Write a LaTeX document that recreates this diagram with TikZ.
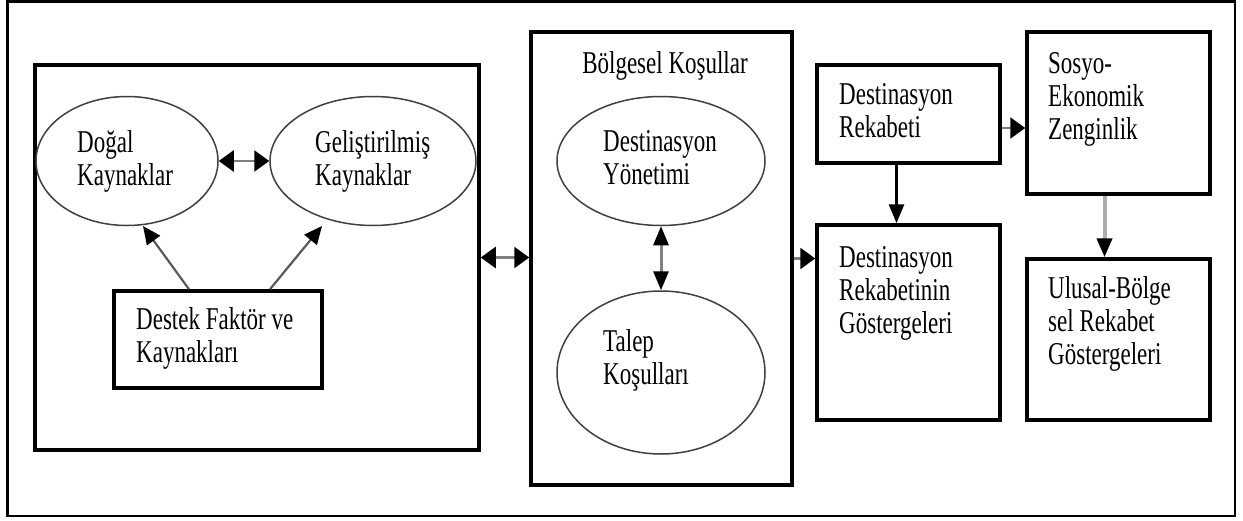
\documentclass[tikz,border=0pt]{standalone}
\usepackage{graphicx}
\usepackage{fontspec}
\setmainfont{Liberation Serif}
\usetikzlibrary{arrows.meta,shapes.geometric}
% multi-line label, set a little taller than wide
\newcommand{\lbl}[1]{\scalebox{1}[1.38]{\fontsize{23}{24}\selectfont\begin{tabular}[t]{@{}l@{}}#1\end{tabular}}}
\begin{document}
\begin{tikzpicture}[x=1pt,y=-1pt,
  frame/.style={draw=black,line width=2.5pt},
  box/.style={draw=black,line width=3.5pt,rectangle,inner sep=0pt},
  oval/.style={draw=black!75,line width=1.5pt,ellipse,inner sep=0pt},
  txt/.style={anchor=base west,inner sep=0pt},
  hshaft/.style={draw=black!50,line width=2.5pt},
  harr/.style={hshaft,{Triangle[length=15pt,width=21pt,color=black,fill=black]}-{Triangle[length=15pt,width=21pt,color=black,fill=black]}},
  harrone/.style={hshaft,-{Triangle[length=15pt,width=21pt,color=black,fill=black]}},
  varr/.style={line width=3pt,-{Triangle[length=19pt,width=15pt,color=black,fill=black]}},
  vdarr/.style={draw=black!50,line width=3pt,{Triangle[length=19pt,width=15pt,color=black,fill=black]}-{Triangle[length=19pt,width=15pt,color=black,fill=black]}},
  darr/.style={draw=black!65,line width=2.2pt,-{Triangle[length=18pt,width=16pt,color=black,fill=black]}}]
\useasboundingbox (0,0) rectangle (1243,520);
\fill[white] (0,0) rectangle (1243,520);
% outer frame
\draw[frame] (7.5,1.5) rectangle (1235,516);

% left group: resources
\node[box,minimum width=444pt,minimum height=385pt] (left) at (257,257.5) {};
\node[oval,minimum width=182pt,minimum height=129pt] (dogal) at (127,161) {};
\node[oval,minimum width=206pt,minimum height=129pt] (gelis) at (373,161) {};
\node[box,minimum width=208pt,minimum height=97pt] (destek) at (218,339.5) {};
\node[txt] (tdogal) at (77,152) {\lbl{Doğal\\Kaynaklar}};
\node[txt] (tgelis) at (315,152) {\lbl{Geliştirilmiş\\Kaynaklar}};
\node[txt] (tdestek) at (136,329) {\lbl{Destek Faktör ve\\Kaynakları}};

% middle group: regional conditions
\node[box,minimum width=261pt,minimum height=453pt] (mid) at (661.5,258.5) {};
\node[anchor=base,inner sep=0pt] (tmid) at (665,73) {\lbl{Bölgesel Koşullar}};
\node[oval,minimum width=208pt,minimum height=129pt] (yon) at (661,161) {};
\node[oval,minimum width=208pt,minimum height=163pt] (talep) at (661,372.5) {};
\node[txt] (tyon) at (603,151) {\lbl{Destinasyon\\Yönetimi}};
\node[txt] (ttalep) at (603,351) {\lbl{Talep\\Koşulları}};

% right boxes
\node[box,minimum width=183pt,minimum height=98pt] (rek) at (908.5,114) {};
\node[box,minimum width=183pt,minimum height=195pt] (gost) at (908.5,322.5) {};
\node[box,minimum width=183pt,minimum height=162pt] (sosyo) at (1118.5,113) {};
\node[box,minimum width=183pt,minimum height=161pt] (ulusal) at (1118.5,339.5) {};
\node[txt] (trek) at (839,104) {\lbl{Destinasyon\\Rekabeti}};
\node[txt] (tgost) at (839,267) {\lbl{Destinasyon\\Rekabetinin\\Göstergeleri}};
\node[txt] (tsosyo) at (1048,73) {\lbl{Sosyo-\\Ekonomik\\Zenginlik}};
\node[txt] (tulusal) at (1048,298) {\lbl{Ulusal-Bölge\\sel Rekabet\\Göstergeleri}};

% connector end points
\coordinate (d1s) at ([xshift=-29pt]destek.north);
\coordinate (d1e) at (143,226);
\coordinate (d2s) at ([xshift=52pt]destek.north);
\coordinate (d2e) at (322,226);
\coordinate (rkr) at ([yshift=-14pt]rek.east);
\coordinate (rkb) at ([xshift=-12pt]rek.south);
\coordinate (ssb) at ([xshift=-14pt]sosyo.south);

% connectors
\draw[harr] (dogal.east) -- (gelis.west);
\draw[darr] (d1s) -- (d1e);
\draw[darr] (d2s) -- (d2e);
\draw[harr] (left.east) -- (left.east -| mid.west);
\draw[vdarr] (yon.south) -- (talep.north);
\draw[harrone] (mid.east) -- (mid.east -| gost.west);
\draw[varr] (rkb) -- (rkb |- gost.north);
\draw[harrone] (rkr) -- (rkr -| sosyo.west);
\draw[varr,draw=black!32,line width=4pt] (ssb) -- (ssb |- ulusal.north);
\end{tikzpicture}
\end{document}
